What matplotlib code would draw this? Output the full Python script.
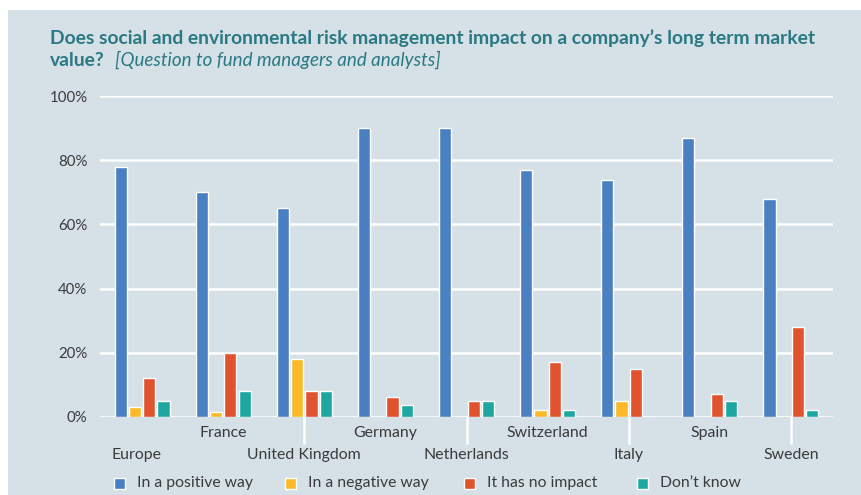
#!/usr/bin/env python3
"""Grouped bar chart: views of fund managers/analysts on whether social and
environmental risk management affects long term market value, by country."""
import numpy as np
import matplotlib
matplotlib.use("Agg")
import matplotlib.pyplot as plt
from matplotlib.patches import Rectangle


# Survey results (% of respondents)
countries = ["Europe", "France", "United Kingdom", "Germany", "Netherlands",
             "Switzerland", "Italy", "Spain", "Sweden"]
positive = [78, 70, 65, 90, 90, 77, 74, 87, 68]
negative = [3, 1.5, 18, 0, 0, 2, 5, 0, 0]
no_impact = [12, 20, 8, 6, 5, 17, 15, 7, 28]
dont_know = [5, 8, 8, 3.5, 5, 2, 0, 5, 2]
series_names = ["In a positive way", "In a negative way", "It has no impact", "Don\u2019t know"]
yticks = [0, 20, 40, 60, 80, 100]

COLORS = ["#4a7fc2", "#fbb829", "#e0532f", "#1ea7a0"]
BG = "#d5e1e7"
TITLE_COL = "#2a7983"
TEXT_COL = "#3b3b3b"
FONT = "Lato"

W, H = 861, 495
fig = plt.figure(figsize=(W / 100, H / 100), dpi=100)
fig.patch.set_facecolor("white")
# tinted panel behind everything (thin white margin on top/left)
fig.add_artist(Rectangle((8 / W, 0), 1 - 8 / W, 1 - 10 / H, transform=fig.transFigure,
                         facecolor=BG, edgecolor="none", zorder=-10))

ax = fig.add_axes([100 / W, (H - 416.5) / H, 733 / W, 320 / H])
ax.set_facecolor("none")
ax.set_xlim(-0.52, len(countries) - 0.48)
ax.set_ylim(0, 100)
for s in ax.spines.values():
    s.set_visible(False)

ax.set_yticks(yticks)
ax.set_yticklabels([f"{t}%" for t in yticks], fontsize=10.8, color=TEXT_COL, family=FONT)
ax.tick_params(axis="y", length=0, pad=9)
ax.set_xticks([])
ax.yaxis.grid(True, color="white", linewidth=1.8)
ax.set_axisbelow(True)

x = np.arange(len(countries))
slot = 0.176
bw = 0.15
for i, vals in enumerate([positive, negative, no_impact, dont_know]):
    ax.bar(x + (i - 1.5) * slot, vals, width=bw, color=COLORS[i],
           edgecolor="white", linewidth=1.0, zorder=3)

# staggered category labels, with white leader lines for the lower row
trans = ax.get_xaxis_transform()
for i, name in enumerate(countries):
    if i % 2 == 1:
        ax.text(i, -0.052, name, transform=trans, ha="center", va="center",
                fontsize=11.4, color=TEXT_COL, family=FONT)
    else:
        ax.text(i - (0.07 if i == 0 else 0), -0.12, name, transform=trans, ha="center",
                va="center", fontsize=11.4, color=TEXT_COL, family=FONT)
        if i > 0:
            ax.plot([i, i], [0, -0.083], transform=trans, color="white",
                    linewidth=1.8, clip_on=False, zorder=2)

# legend row
legend_x = [119, 290, 469, 642]
for i, name in enumerate(series_names):
    lx = legend_x[i]
    fig.add_artist(Rectangle(((lx - 5.5) / W, (H - 483 - 5.5) / H), 11 / W, 11 / H,
                             transform=fig.transFigure, facecolor=COLORS[i],
                             edgecolor="white", linewidth=1.0))
    fig.text((lx + 18) / W, (H - 483) / H, name, ha="left", va="center",
             fontsize=11.3, color=TEXT_COL, family=FONT)

# title
fig.text(50 / W, (H - 38) / H,
         "Does social and environmental risk management impact on a company\u2019s long term market",
         ha="left", va="center", fontsize=13.9, fontweight="bold", color=TITLE_COL, family=FONT)
fig.text(50 / W, (H - 60) / H, "value?", ha="left", va="center", fontsize=13.9,
         fontweight="bold", color=TITLE_COL, family=FONT)
fig.text(115 / W, (H - 60) / H, "[Question to fund managers and analysts]", ha="left",
         va="center", fontsize=13.5, style="italic", color=TITLE_COL, family=FONT)

fig.savefig("out.png", dpi=100, facecolor=fig.get_facecolor())
